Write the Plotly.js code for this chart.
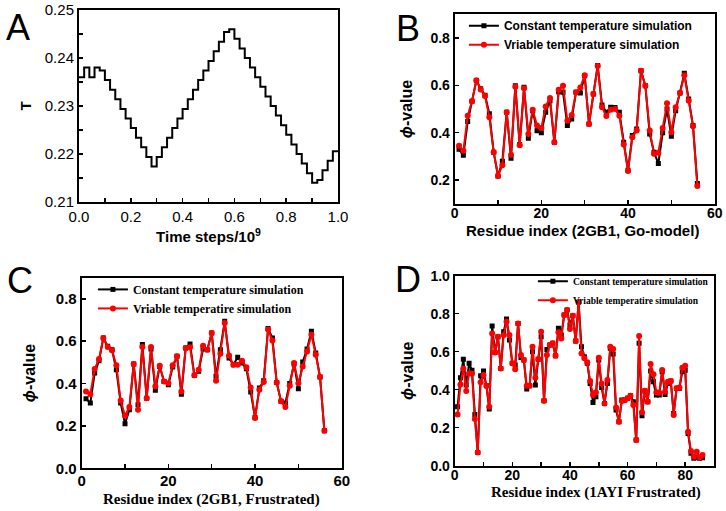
<!DOCTYPE html>
<html>
<head>
<meta charset="utf-8">
<script src="https://cdn.plot.ly/plotly-3.0.1.min.js"></script>
<style>html,body{margin:0;padding:0;background:#fff}#chart{width:726px;height:511px}</style>
</head>
<body>
<div id="chart"></div>
<script>
// ---- Panel A: temperature schedule (step edges and step values) ----
var timeA = [0.00,0.02,0.04,0.06,0.08,0.10,0.12,0.14,0.16,0.18,0.20,0.22,0.24,0.26,0.28,0.30,0.32,0.34,0.36,0.38,0.40,0.42,0.44,0.46,0.48,0.50,0.52,0.54,0.56,0.58,0.60,0.62,0.64,0.66,0.68,0.70,0.72,0.74,0.76,0.78,0.80,0.82,0.84,0.86,0.88,0.90,0.92,0.94,0.96,0.98,1.00];
var tempA = [0.2360,0.2380,0.2360,0.2380,0.2374,0.2354,0.2334,0.2314,0.2294,0.2274,0.2254,0.2234,0.2214,0.2194,0.2174,0.2194,0.2214,0.2234,0.2254,0.2274,0.2294,0.2314,0.2334,0.2354,0.2374,0.2394,0.2414,0.2434,0.2454,0.2460,0.2440,0.2420,0.2400,0.2380,0.2360,0.2340,0.2320,0.2300,0.2280,0.2260,0.2240,0.2220,0.2200,0.2180,0.2160,0.2140,0.2146,0.2166,0.2186,0.2206,0.2206];

// ---- Panels B and C: residue index 1..56 ----
var resGB1 = [1,2,3,4,5,6,7,8,9,10,11,12,13,14,15,16,17,18,19,20,21,22,23,24,25,26,27,28,29,30,31,32,33,34,35,36,37,38,39,40,41,42,43,44,45,46,47,48,49,50,51,52,53,54,55,56];
var phiB_const = [0.330,0.305,0.447,0.533,0.620,0.585,0.558,0.480,0.318,0.218,0.280,0.486,0.293,0.598,0.351,0.592,0.377,0.493,0.408,0.400,0.486,0.535,0.360,0.573,0.570,0.430,0.458,0.570,0.567,0.640,0.437,0.563,0.683,0.517,0.486,0.507,0.506,0.486,0.360,0.242,0.388,0.416,0.661,0.598,0.395,0.318,0.270,0.400,0.500,0.385,0.493,0.567,0.650,0.542,0.430,0.186];
var phiB_var   = [0.345,0.324,0.472,0.533,0.621,0.582,0.555,0.465,0.318,0.218,0.263,0.486,0.307,0.594,0.347,0.587,0.395,0.497,0.430,0.420,0.511,0.546,0.360,0.581,0.598,0.451,0.475,0.570,0.591,0.642,0.437,0.563,0.681,0.507,0.470,0.497,0.500,0.472,0.351,0.239,0.381,0.409,0.661,0.598,0.409,0.312,0.316,0.420,0.524,0.402,0.507,0.567,0.642,0.535,0.427,0.176];
var phiC_const = [0.328,0.308,0.450,0.508,0.615,0.576,0.560,0.465,0.308,0.210,0.276,0.492,0.300,0.584,0.331,0.563,0.368,0.481,0.410,0.394,0.478,0.529,0.350,0.568,0.587,0.439,0.458,0.563,0.560,0.639,0.434,0.560,0.694,0.521,0.489,0.524,0.497,0.470,0.360,0.240,0.379,0.413,0.660,0.615,0.405,0.316,0.308,0.400,0.492,0.375,0.502,0.563,0.647,0.544,0.431,0.177];
var phiC_var   = [0.363,0.350,0.469,0.516,0.615,0.573,0.557,0.486,0.320,0.248,0.289,0.492,0.276,0.573,0.331,0.573,0.387,0.484,0.410,0.402,0.486,0.529,0.363,0.568,0.571,0.439,0.465,0.579,0.560,0.639,0.413,0.541,0.686,0.533,0.489,0.489,0.508,0.477,0.382,0.237,0.371,0.407,0.655,0.603,0.405,0.316,0.289,0.390,0.497,0.402,0.481,0.552,0.631,0.536,0.431,0.177];

// ---- Panel D: residue index 1..86 ----
var res1AYI = [1,2,3,4,5,6,7,8,9,10,11,12,13,14,15,16,17,18,19,20,21,22,23,24,25,26,27,28,29,30,31,32,33,34,35,36,37,38,39,40,41,42,43,44,45,46,47,48,49,50,51,52,53,54,55,56,57,58,59,60,61,62,63,64,65,66,67,68,69,70,71,72,73,74,75,76,77,78,79,80,81,82,83,84,85,86];
var phiD_const = [0.310,0.463,0.560,0.425,0.539,0.503,0.270,0.070,0.474,0.498,0.421,0.298,0.735,0.596,0.679,0.512,0.705,0.772,0.661,0.539,0.530,0.749,0.570,0.556,0.404,0.421,0.600,0.425,0.560,0.679,0.342,0.612,0.635,0.644,0.579,0.723,0.688,0.793,0.819,0.740,0.789,0.656,0.860,0.626,0.574,0.539,0.433,0.333,0.363,0.556,0.411,0.328,0.433,0.618,0.588,0.293,0.232,0.346,0.346,0.355,0.368,0.337,0.135,0.644,0.263,0.393,0.337,0.498,0.442,0.372,0.372,0.495,0.375,0.433,0.446,0.275,0.407,0.407,0.495,0.503,0.170,0.065,0.039,0.044,0.039,0.042];
var phiD_var   = [0.270,0.428,0.512,0.393,0.486,0.484,0.246,0.070,0.439,0.477,0.421,0.310,0.696,0.596,0.679,0.512,0.688,0.758,0.688,0.539,0.507,0.749,0.582,0.556,0.421,0.421,0.626,0.463,0.560,0.705,0.342,0.582,0.635,0.644,0.579,0.702,0.670,0.793,0.819,0.719,0.789,0.656,0.860,0.591,0.565,0.544,0.446,0.372,0.386,0.568,0.433,0.328,0.451,0.626,0.614,0.307,0.232,0.340,0.345,0.355,0.368,0.319,0.135,0.682,0.281,0.395,0.337,0.535,0.481,0.386,0.384,0.504,0.389,0.442,0.446,0.267,0.407,0.412,0.516,0.526,0.179,0.077,0.047,0.074,0.044,0.056];

var nameConst = 'Constant temperature simulation';
var nameVarB = 'Vriable temperature simulation';
var nameVarCD = 'Vriable temperatire simulation';
var titleXB = 'Residue index (2GB1, Go-model)';
var titleXC = 'Residue index (2GB1, Frustrated)';
var titleXD = 'Residue index (1AYI Frustrated)';

var SANS = 'Liberation Sans, Arial, sans-serif';
var SERIF = 'Liberation Serif, Times New Roman, serif';

function constTrace(x, y, xa, ya, lg) {
  return {x:x, y:y, xaxis:xa, yaxis:ya, legend:lg, name:nameConst, type:'scatter', mode:'lines+markers',
    line:{color:'#000000', width:2}, marker:{symbol:'square', size:5, color:'#000000'}};
}
function varTrace(x, y, xa, ya, lg, nm) {
  return {x:x, y:y, xaxis:xa, yaxis:ya, legend:lg, name:nm, type:'scatter', mode:'lines+markers',
    line:{color:'#ff0000', width:2}, marker:{symbol:'circle', size:6, color:'#ff0000'}};
}

var data = [
  {x:timeA, y:tempA, xaxis:'x', yaxis:'y', type:'scatter', mode:'lines', name:'T', line:{shape:'hv', color:'#000', width:2}, showlegend:false},
  constTrace(resGB1, phiB_const, 'x2', 'y2', 'legend'),
  varTrace(resGB1, phiB_var, 'x2', 'y2', 'legend', nameVarB),
  constTrace(resGB1, phiC_const, 'x3', 'y3', 'legend2'),
  varTrace(resGB1, phiC_var, 'x3', 'y3', 'legend2', nameVarCD),
  constTrace(res1AYI, phiD_const, 'x4', 'y4', 'legend3'),
  varTrace(res1AYI, phiD_var, 'x4', 'y4', 'legend3', nameVarCD)
];

var MINOR = function (d) { return {dtick:d, ticks:'inside', ticklen:4, tickcolor:'#000', tickwidth:1.5}; };
function ax(o) {
  var base = {showline:true, mirror:true, linecolor:'#000', linewidth:2, showgrid:false, zeroline:false,
    ticks:'inside', ticklen:4, tickwidth:1.5, tickcolor:'#000', fixedrange:true, automargin:false};
  for (var k in o) base[k] = o[k];
  return base;
}
var tfA = {family:SANS, size:15, color:'#000'};
var tfB = {family:SANS, size:14, color:'#000', weight:'bold'};
var tfC = {family:SANS, size:15, color:'#000', weight:'bold'};
var ytf = {family:SANS, size:16, color:'#000', weight:'bold'};

function label(t, x, y) {
  return {text:t, xref:'paper', yref:'paper', x:x/726, y:1-y/511, xanchor:'center', yanchor:'middle', showarrow:false,
    font:{family:SANS, size:36, color:'#000'}};
}
function xtitle(t, x, y, fam) {
  return {text:t, xref:'paper', yref:'paper', x:x/726, y:1-y/511, xanchor:'center', yanchor:'middle', showarrow:false,
    borderpad:0, font:{family:fam, size:15, color:'#000', weight:'bold'}};
}

var layout = {
  width:726, height:511, margin:{l:0, r:0, t:0, b:0, autoexpand:false},
  paper_bgcolor:'#fff', plot_bgcolor:'#fff',
  xaxis: ax({domain:[0.1088,0.4656], anchor:'y', range:[0,1], dtick:0.2, tickformat:'.1f', minor:MINOR(0.1), tickfont:tfA,
    title:{text:'Time steps/10<sup>9</sup>', font:{family:SANS, size:15, color:'#000', weight:'bold'}, standoff:8}}),
  yaxis: ax({domain:[0.6047,0.9804], anchor:'x', range:[0.21,0.25], dtick:0.01, tickformat:'.2f', minor:MINOR(0.005), tickfont:tfA,
    title:{text:'T', font:{family:SANS, size:15, color:'#000', weight:'bold'}, standoff:10}}),
  xaxis2: ax({domain:[0.6263,0.9844], anchor:'y2', range:[0,60], dtick:20, tickfont:tfB, minor:MINOR(10), ticklabelstandoff:-5}),
  yaxis2: ax({domain:[0.6008,0.9726], anchor:'x2', range:[0.1,0.9], dtick:0.2, tickformat:'.1f', tickfont:tfB,
    title:{text:'<i>ϕ</i>-value', font:ytf, standoff:14}}),
  xaxis3: ax({domain:[0.1125,0.4707], anchor:'y3', range:[0,60], dtick:20, tickfont:tfC, minor:MINOR(10), ticklabelstandoff:-2}),
  yaxis3: ax({domain:[0.0836,0.4566], anchor:'x3', range:[0,0.9], dtick:0.2, tickformat:'.1f', tickfont:tfC,
    title:{text:'<i>ϕ</i>-value', font:ytf, standoff:16}}),
  xaxis4: ax({domain:[0.6263,0.9835], anchor:'y4', range:[0,90], dtick:20, tickfont:tfB, minor:MINOR(10), ticklabelstandoff:-5}),
  yaxis4: ax({domain:[0.0886,0.4605], anchor:'x4', range:[0,1.0], dtick:0.2, tickformat:'.1f', tickfont:tfB,
    title:{text:'<i>ϕ</i>-value', font:ytf, standoff:13}}),
  legend: {x:0.639, y:0.978, xanchor:'left', yanchor:'top', bgcolor:'rgba(0,0,0,0)', tracegroupgap:0,
    font:{family:SANS, size:12, color:'#000', weight:'bold'}},
  legend2: {x:0.128, y:0.462, xanchor:'left', yanchor:'top', bgcolor:'rgba(0,0,0,0)', tracegroupgap:0,
    font:{family:SERIF, size:12, color:'#000', weight:'bold'}},
  legend3: {x:0.734, y:0.478, xanchor:'left', yanchor:'top', bgcolor:'rgba(0,0,0,0)', tracegroupgap:0,
    font:{family:SERIF, size:9.5, color:'#000', weight:'bold'}},
  annotations: [
    label('A', 18, 27), label('B', 408, 28), label('C', 20, 280), label('D', 408, 279),
    xtitle(titleXB, 582.7, 230, SANS),
    xtitle(titleXC, 211.7, 499, SERIF),
    xtitle(titleXD, 595.7, 492, SERIF)
  ]
};

Plotly.newPlot('chart', data, layout, {staticPlot:true, displayModeBar:false});
</script>
</body>
</html>
